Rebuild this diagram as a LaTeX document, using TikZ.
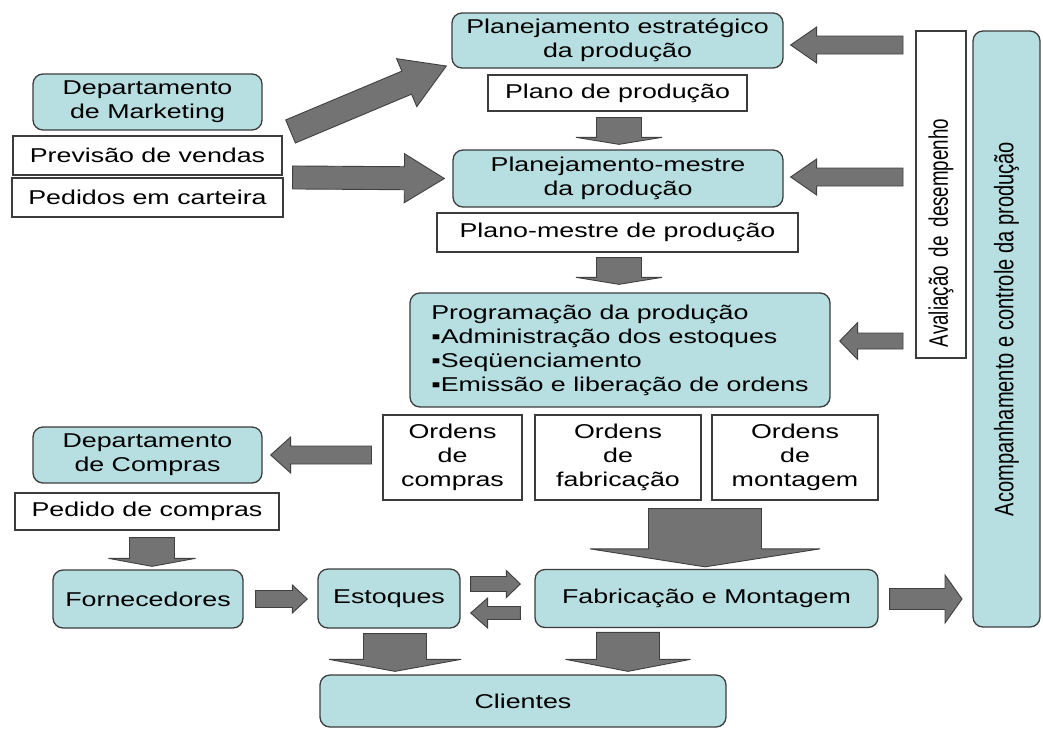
\documentclass[tikz,border=0pt]{standalone}
\usepackage{fontspec}
\setmainfont{Liberation Sans}[FakeStretch=1.34]
\newfontfamily\vertfont{Liberation Sans}[FakeStretch=0.75]
\newfontfamily\vertnarrow{Liberation Sans}[FakeStretch=0.70]
\usetikzlibrary{calc}

\definecolor{boxcyan}{RGB}{183,222,224}
\definecolor{linegray}{RGB}{60,60,60}
\definecolor{arrowgray}{RGB}{115,115,115}
\definecolor{arrowedge}{RGB}{64,64,64}

% fat arrow: start, end, half shaft, half head, head length
\newcommand{\fatarrow}[5]{%
  \coordinate (fa-h) at ($(#2)!#5pt!(#1)$);
  \filldraw[blockarrow] ($(#1)!#3pt!90:(#2)$) -- ($(fa-h)!#3pt!90:(#2)$)
    -- ($(fa-h)!#4pt!90:(#2)$) -- (#2) -- ($(fa-h)!#4pt!-90:(#2)$)
    -- ($(fa-h)!#3pt!-90:(#2)$) -- ($(#1)!#3pt!-90:(#2)$) -- cycle;
}

\begin{document}
\begin{tikzpicture}[x=1pt, y=-1pt,
  box/.style={draw=linegray, fill=boxcyan, line width=1.3pt, rounded corners=10pt,
    align=center, inner sep=0pt, font=\fontsize{20}{24}\selectfont},
  paper/.style={draw=linegray, fill=white, line width=1.1pt,
    align=center, inner sep=0pt, font=\fontsize{20}{24}\selectfont},
  upright/.style={rotate=90, font=\vertfont\fontsize{26.8}{30}\selectfont},
  blockarrow/.style={fill=arrowgray, draw=arrowedge, line width=0.9pt, line join=miter}]
\useasboundingbox (0,0) rectangle (1043,729);

% Planning column
\node[box, minimum width=331pt, minimum height=55pt] (pe) at (617.5,40.5) {Planejamento estratégico\\da produção};
\node[paper, minimum width=259pt, minimum height=36pt] (pp) at (617.5,93) {Plano de produção};
\node[box, minimum width=330pt, minimum height=57pt] (pm) at (618,178.5) {Planejamento-mestre\\da produção};
\node[paper, minimum width=361pt, minimum height=39pt] (pmp) at (617.5,232.5) {Plano-mestre de produção};
\node[box, minimum width=420pt, minimum height=114pt, align=left] (prog) at (620,350)
  {Programação da produção\\▪Administração dos estoques\\▪Seqüenciamento\\▪Emissão e liberação de ordens};

% Orders
\node[paper, minimum width=139pt, minimum height=85pt] (oc) at (452.5,457.5) {Ordens\\de\\compras};
\node[paper, minimum width=166pt, minimum height=85pt] (of) at (618,457.5) {Ordens\\de\\fabricação};
\node[paper, minimum width=166pt, minimum height=85pt] (om) at (795,457.5) {Ordens\\de\\montagem};

% Left side
\node[box, minimum width=229pt, minimum height=56pt] (dm) at (147.5,102) {Departamento\\de Marketing};
\node[paper, minimum width=269pt, minimum height=39pt] (pv) at (147.5,155.5) {Previsão de vendas};
\node[paper, minimum width=271pt, minimum height=39pt] (pc) at (147.5,197.5) {Pedidos em carteira};
\node[box, minimum width=229pt, minimum height=56pt] (dc) at (147.5,455) {Departamento\\de Compras};
\node[paper, minimum width=264pt, minimum height=37pt] (pdc) at (147,511.5) {Pedido de compras};

% Bottom row
\node[box, minimum width=190pt, minimum height=58pt] (forn) at (148,599) {Fornecedores};
\node[box, minimum width=142pt, minimum height=59pt] (est) at (389,598.5) {Estoques};
\node[box, minimum width=343pt, minimum height=58pt] (fab) at (706.5,598.5) {Fabricação e Montagem};
\node[box, minimum width=406pt, minimum height=52pt] (cli) at (523,701) {Clientes};

% Right side (vertical)
\node[paper, upright, font=\vertnarrow\fontsize{26.8}{30}\selectfont, minimum width=327pt,
  minimum height=50pt, inner xsep=11pt, text width=305pt, align=left] (aval) at (941,194.5)
  {Avaliação de desempenho};
\node[box, upright, minimum width=596pt, minimum height=67pt] (acomp) at (1006.5,329)
  {Acompanhamento e controle da produção};

% Arrow ends
\coordinate (a1s) at ($(pv.north east)+(8,-4)$);
\coordinate (a1e) at ($(pe.west)+(-5,25.5)$);
\coordinate (a2s) at ($(pc.north east)+(9,0)$);
\coordinate (a2e) at ($(pm.west)+(-8,0)$);
\coordinate (a3s) at ($(pp.south)+(1.5,6)$);
\coordinate (a3e) at ($(pm.north)+(1,-5)$);
\coordinate (a4s) at ($(pmp.south)+(1.5,5)$);
\coordinate (a4e) at ($(prog.north)+(-1,-8)$);
\coordinate (a5s) at ($(pe.east -| aval)+(-38,4.5)$);
\coordinate (a5e) at ($(pe.east)+(7,4.5)$);
\coordinate (a6s) at ($(pm.east -| aval)+(-38,-1.5)$);
\coordinate (a6e) at ($(pm.east)+(7,-1.5)$);
\coordinate (a7s) at ($(prog.east -| aval)+(-38,-9)$);
\coordinate (a7e) at ($(prog.east)+(9,-9)$);
\coordinate (a8s) at ($(oc.west)+(-11,-2.5)$);
\coordinate (a8e) at ($(dc.east)+(8,0)$);
\coordinate (a9s) at ($(pdc.south)+(5,7)$);
\coordinate (a9e) at ($(forn.north)+(4,-3)$);
\coordinate (a10s) at ($(forn.east)+(12,0)$);
\coordinate (a10e) at ($(est.west)+(-10,0.5)$);
\coordinate (a11s) at ($(est.east)+(10,-14.5)$);
\coordinate (a11e) at ($(fab.west)+(-14,-14.5)$);
\coordinate (a12s) at ($(fab.west)+(-14,14.5)$);
\coordinate (a12e) at ($(est.east)+(10,14.5)$);
\coordinate (a13s) at ($(of.south east)!0.5!(om.south west)+(-1.5,8)$);
\coordinate (a13e) at ($(fab.north)+(-1.5,-2)$);
\coordinate (a14s) at ($(fab.east)+(11,0.5)$);
\coordinate (a14e) at ($(fab.east -| acomp)+(-44.5,0.5)$);
\coordinate (a15s) at ($(est.south)+(6,5)$);
\coordinate (a15e) at ($(est.south |- cli.north)+(6,-3)$);
\coordinate (a16s) at ($(cli.north)+(105,-42)$);
\coordinate (a16e) at ($(cli.north)+(105,-3)$);

% Block arrows
\foreach \s/\e/\w/\h/\l in {a1s/a1e/12.5/26/43, a2s/a2e/11.5/24.5/40,
    a3s/a3e/22.5/43/7, a4s/a4e/22.5/43/7, a5s/a5e/9/18/26, a6s/a6e/9/18/26,
    a7s/a7e/8/18.5/18, a8s/a8e/9/18/20, a9s/a9e/22.5/43.5/8,
    a10s/a10e/8.5/14/15, a11s/a11e/7.5/13.5/14, a12s/a12e/6.5/15/17,
    a13s/a13e/56.5/115/18, a14s/a14e/10.5/24/17, a15s/a15e/31.5/66/12,
    a16s/a16e/31.5/62.5/12} {
  \fatarrow{\s}{\e}{\w}{\h}{\l}
}
\end{tikzpicture}
\end{document}
